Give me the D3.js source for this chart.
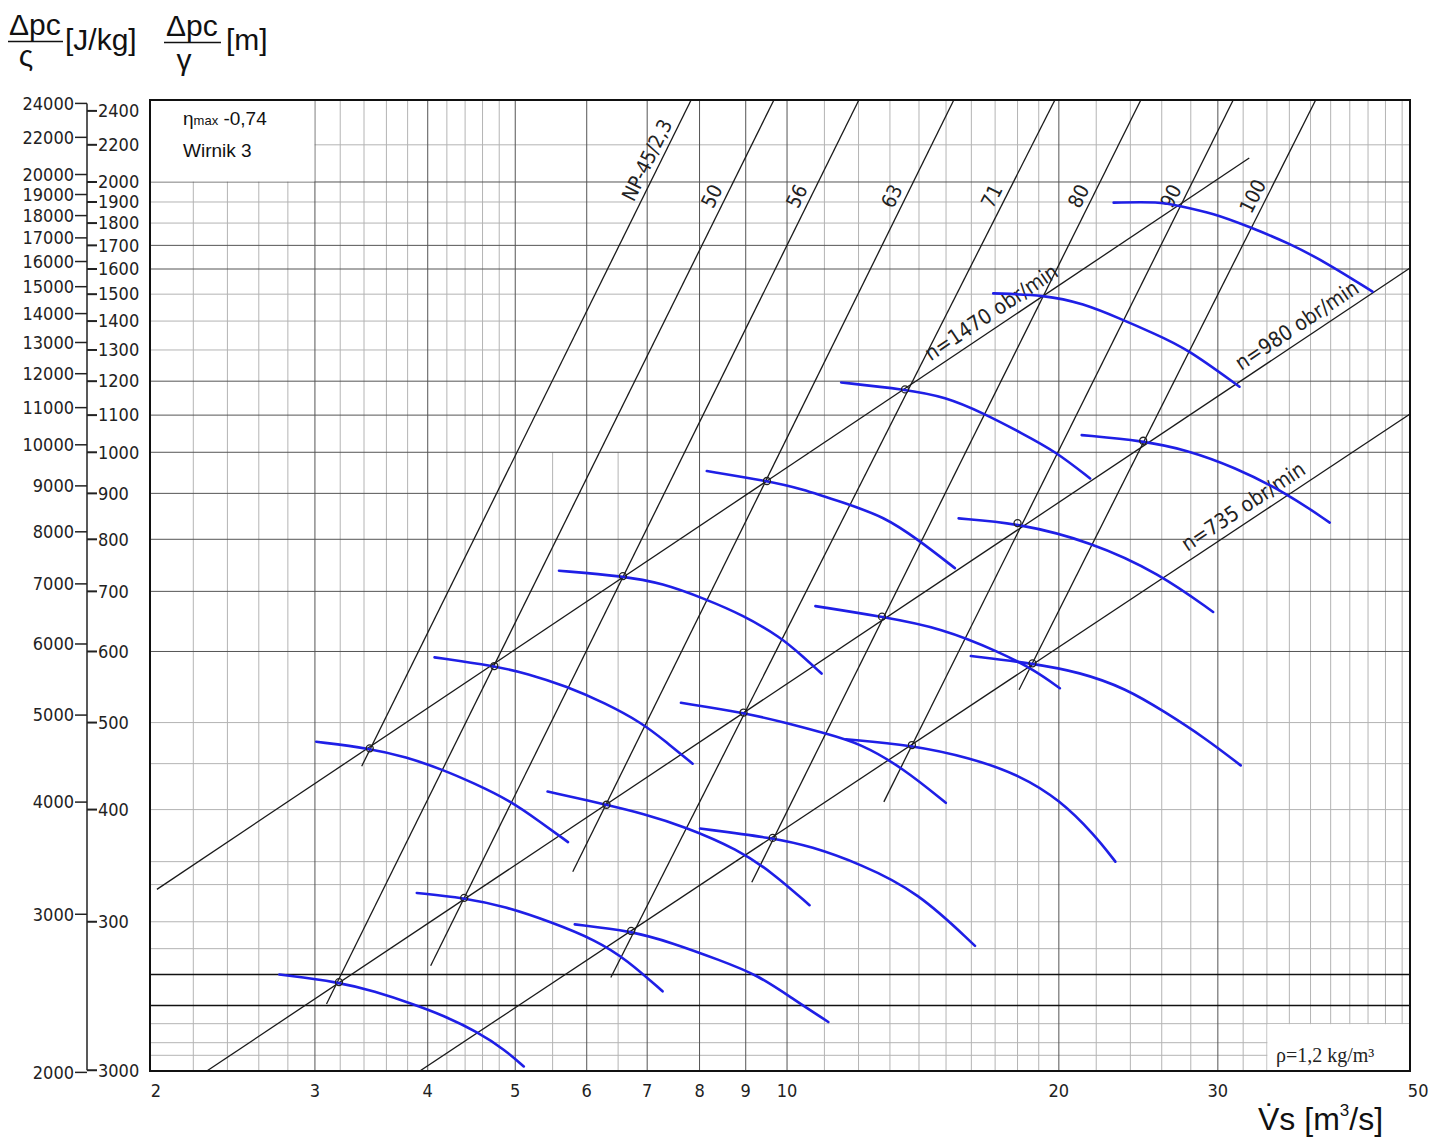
<!DOCTYPE html>
<html>
<head>
<meta charset="utf-8">
<script src="https://cdn.jsdelivr.net/npm/d3@7"></script>
<style>
  body { margin: 0; background: #fff; }
  svg text { font-family: "DejaVu Sans Condensed", "DejaVu Sans", sans-serif; fill: #222; }
  .title text { font-family: "Liberation Sans", Arial, sans-serif; fill: #111; }
</style>
</head>
<body>
<svg id="chart" width="1440" height="1137"></svg>
<script>
// axis ticks (left: J/kg, inner: m, bottom: m3/s)
const jTicks = [24000, 22000, 20000, 19000, 18000, 17000, 16000, 15000, 14000, 13000, 12000, 11000,
                10000, 9000, 8000, 7000, 6000, 5000, 4000, 3000, 2000];
const mTickVals = [2400, 2200, 2000, 1900, 1800, 1700, 1600, 1500, 1400, 1300, 1200, 1100,
                   1000, 900, 800, 700, 600, 500, 400, 300, 205];
const mTickLabels = ["2400", "2200", "2000", "1900", "1800", "1700", "1600", "1500", "1400", "1300", "1200", "1100",
                     "1000", "900", "800", "700", "600", "500", "400", "300", "3000"];
const xTicks = [2, 3, 4, 5, 6, 7, 8, 9, 10, 20, 30, 50];

// grid of the paper
const gridVMajor = [3, 4, 5, 6, 7, 8, 9, 10, 20, 30];
const gridVMinor = [2.2, 2.4, 2.6, 2.8, 3.2, 3.4, 3.6, 3.8, 4.2, 4.4, 4.6, 4.8,
                    11, 12, 13, 14, 15, 16, 17, 18, 19, 22, 24, 26, 28,
                    32, 34, 36, 38, 40, 42, 44, 46, 48];
const gridVPartial = [5.5, 6.5];          // only in the lower part
const gridHMajor = [2000, 1700, 1600, 1200, 1100, 1000, 900, 800, 700, 600];
const gridHMinor = [2200, 1900, 1800, 1500, 1400, 1300, 500, 450, 400, 350, 330, 300, 280, 231, 220, 213];
const gridHHeavy = [262, 242];

// speed lines n = const  [V, H(m)] ends
const speedNames = ["n=1470  obr/min", "n=980  obr/min", "n=735  obr/min"];
const speedLines = [[[2.005, 326], [32.5, 2127]],
                    [[2.277, 204.6], [48.97, 1604]],
                    [[3.92, 204.6], [48.97, 1103]]];
const speedLabelV = [17.2, 37.5, 32.7];

// fan size lines D = const
const sizeNames = ["NP-45/2,3", "50", "56", "63", "71", "80", "90", "100"];
const sizeLines = [[[3.38, 447], [7.83, 2468]],
                   [[3.09, 243], [9.67, 2468]],
                   [[4.03, 268], [12.01, 2468]],
                   [[5.79, 341], [15.3, 2468]],
                   [[6.38, 260], [19.8, 2468]],
                   [[9.14, 332], [24.65, 2468]],
                   [[12.8, 408], [31.2, 2468]],
                   [[18.07, 544], [38.5, 2468]]];
const sizeLabelH = [2085, 1900, 1900, 1900, 1900, 1900, 1900, 1900];

// characteristics, n = 1470 obr/min  (sizes 45 ... 90)
const curves1470 = [
  [[3.01, 476], [3.45, 468], [3.78, 458], [4.16, 443], [4.50, 428], [4.94, 409], [5.32, 388], [5.72, 368]],
  [[4.07, 591], [4.74, 578], [5.16, 567], [5.69, 549], [6.28, 526], [6.92, 499], [7.34, 476], [7.86, 450]],
  [[5.59, 738], [6.58, 728], [7.27, 715], [8.13, 686], [8.92, 659], [9.83, 623], [10.42, 592], [10.92, 567]],
  [[8.15, 953], [9.50, 929], [10.33, 912], [11.61, 877], [12.8, 848], [13.98, 799], [15.34, 743]],
  [[11.48, 1196], [13.51, 1175], [14.97, 1153], [16.51, 1105], [18.2, 1050], [19.87, 1001], [21.66, 935]],
  [[16.92, 1503], [19.3, 1497], [21.27, 1465], [23.45, 1407], [25.5, 1356], [27.68, 1306], [31.7, 1183]],
  [[23.0, 1897], [25.85, 1902], [27.2, 1881], [29.64, 1846], [32.5, 1783], [36.0, 1709], [39.7, 1623], [44.5, 1510]]
];
// n = 980 obr/min  (sizes 50 ... 100)
const curves980 = [
  [[2.74, 262], [3.19, 257], [3.49, 251], [3.85, 243], [4.16, 236], [4.55, 226], [4.87, 216], [5.11, 207]],
  [[3.89, 323], [4.39, 319], [4.87, 312], [5.47, 300], [6.15, 286], [6.65, 272], [7.28, 251]],
  [[5.43, 419], [6.31, 405], [6.92, 396], [7.70, 383], [8.83, 361], [9.64, 340], [10.59, 313]],
  [[7.63, 526], [8.95, 513], [10.03, 499], [11.05, 486], [12.05, 474], [13.44, 445], [14.99, 407]],
  [[10.75, 674], [12.74, 656], [14.83, 637], [17.2, 599], [18.8, 572], [20.05, 546]],
  [[15.49, 844], [18.0, 834], [21.7, 795], [25.85, 733], [29.64, 664]],
  [[21.2, 1045], [24.8, 1030], [27.7, 1006], [31.2, 964], [35.8, 900], [39.9, 835]]
];
// n = 735 obr/min  (sizes 71 ... 100)
const curves735 = [
  [[5.82, 298], [6.72, 293], [7.48, 284], [8.41, 272], [9.27, 262], [10.22, 245], [11.11, 232]],
  [[8.01, 381], [9.64, 372], [10.63, 364], [12.05, 348], [13.96, 324], [16.15, 282]],
  [[11.62, 479], [13.75, 472], [15.94, 457], [18.1, 437], [20.05, 410], [21.9, 375], [23.1, 350]],
  [[15.98, 593], [18.7, 582], [21.1, 569], [23.7, 546], [26.2, 514], [29.0, 481], [31.8, 448]]
];
// small circles at the crossings
const bepPoints = [[3.45, 468], [4.74, 578], [6.58, 728], [9.50, 929], [13.51, 1175],
                   [3.19, 257], [4.39, 319], [6.31, 405], [8.95, 513], [12.74, 656], [18.0, 834], [24.8, 1030],
                   [6.72, 293], [9.64, 372], [13.75, 472], [18.7, 582]];

const G = 9.81;

const svg = d3.select("#chart");
const x = d3.scaleLog().domain([1.97, 48.97]).range([150, 1410]);
const y = d3.scaleLog().domain([204.6, 2468]).range([1071, 100]);
const [x0, x1] = x.range();
const [y1, y0] = y.range();

// grid
const grid = svg.append("g");
function vLines(vals, color, top) {
  grid.selectAll(null).data(vals).enter().append("line")
    .attr("x1", d => x(d)).attr("x2", d => x(d))
    .attr("y1", top).attr("y2", y1)
    .attr("stroke", color).attr("stroke-width", 1);
}
function hLines(vals, color, w) {
  grid.selectAll(null).data(vals).enter().append("line")
    .attr("x1", x0).attr("x2", x1)
    .attr("y1", d => y(d)).attr("y2", d => y(d))
    .attr("stroke", color).attr("stroke-width", w);
}
vLines(gridVMinor, "#b4b4b4", y0);
vLines(gridVPartial, "#b4b4b4", y(1000));
hLines(gridHMinor, "#b4b4b4", 1);
vLines(gridVMajor, "#555", y0);
hLines(gridHMajor, "#555", 1);
hLines(gridHHeavy, "#111", 1.5);

// white boxes for the notes
svg.append("rect").attr("x", x0).attr("y", y0)
  .attr("width", x(3) - x0 - 0.5).attr("height", y(2000) - y0 - 0.5).attr("fill", "#fff");
svg.append("rect").attr("x", x(34) + 0.5).attr("y", y(231) + 0.5)
  .attr("width", x1 - x(34) - 0.5).attr("height", y1 - y(231) - 0.5).attr("fill", "#fff");

const note = svg.append("g").attr("class", "title");
const eta = note.append("text").attr("x", 183).attr("y", 125).style("font-size", "19px");
eta.append("tspan").text("η");
eta.append("tspan").style("font-size", "13px").text("max");
eta.append("tspan").text(" -0,74");
note.append("text").attr("x", 183).attr("y", 157).style("font-size", "19px").text("Wirnik 3");
svg.append("text").attr("x", 1276).attr("y", 1062)
  .style("font-family", "'Liberation Serif', 'Times New Roman', serif").style("font-size", "20px")
  .text("ρ=1,2 kg/m³");

// clip for straight lines
svg.append("clipPath").attr("id", "plotClip").append("rect")
  .attr("x", x0).attr("y", y0).attr("width", x1 - x0).attr("height", y1 - y0);

const lines = svg.append("g").attr("clip-path", "url(#plotClip)");
const straight = d3.line().x(d => x(d[0])).y(d => y(d[1]));
lines.selectAll(null).data(speedLines.concat(sizeLines)).enter().append("path")
  .attr("d", straight).attr("fill", "none").attr("stroke", "#1a1a1a").attr("stroke-width", 1.3);

// line labels
function atH(seg, h) {
  const [a, b] = seg;
  const t = Math.log(h / a[1]) / Math.log(b[1] / a[1]);
  return [a[0] * Math.pow(b[0] / a[0], t), h];
}
function atV(seg, v) {
  const [a, b] = seg;
  const t = Math.log(v / a[0]) / Math.log(b[0] / a[0]);
  return [v, a[1] * Math.pow(b[1] / a[1], t)];
}
function angle(seg) {
  const [a, b] = seg;
  return Math.atan2(y(b[1]) - y(a[1]), x(b[0]) - x(a[0])) * 180 / Math.PI;
}
const labels = svg.append("g");
sizeLines.forEach((seg, i) => {
  const p = atH(seg, sizeLabelH[i]);
  labels.append("text")
    .attr("transform", `translate(${x(p[0])},${y(p[1])}) rotate(${angle(seg)})`)
    .attr("y", -6).attr("text-anchor", "middle").style("font-size", "20px")
    .text(sizeNames[i]);
});
speedLines.forEach((seg, i) => {
  const p = atV(seg, speedLabelV[i]);
  labels.append("text")
    .attr("transform", `translate(${x(p[0])},${y(p[1])}) rotate(${angle(seg)})`)
    .attr("y", -8).attr("text-anchor", "middle").style("font-size", "21px")
    .text(speedNames[i]);
});

// fan characteristics
const curve = d3.line().x(d => x(d[0])).y(d => y(d[1])).curve(d3.curveBasis);
svg.append("g").selectAll("path").data(curves1470.concat(curves980, curves735)).enter().append("path")
  .attr("d", curve).attr("fill", "none").attr("stroke", "#1f1fe6")
  .attr("stroke-width", 2.6).attr("stroke-linecap", "round");
svg.append("g").selectAll("circle").data(bepPoints).enter().append("circle")
  .attr("cx", d => x(d[0])).attr("cy", d => y(d[1])).attr("r", 3.5)
  .attr("fill", "none").attr("stroke", "#222").attr("stroke-width", 1.3);

// frame
svg.append("rect").attr("x", x0).attr("y", y0).attr("width", x1 - x0).attr("height", y1 - y0)
  .attr("fill", "none").attr("stroke", "#111").attr("stroke-width", 2);

// left double axis
const ax = svg.append("g");
ax.append("line").attr("x1", 87).attr("x2", 87)
  .attr("y1", y(jTicks[0] / G)).attr("y2", y(mTickVals[mTickVals.length - 1]))
  .attr("stroke", "#222").attr("stroke-width", 1.5);
jTicks.forEach(v => {
  const yy = y(v / G);
  ax.append("line").attr("x1", 75).attr("x2", 87).attr("y1", yy).attr("y2", yy)
    .attr("stroke", "#222").attr("stroke-width", 1.5);
  ax.append("text").attr("x", 74).attr("y", yy).attr("dy", "0.35em")
    .attr("text-anchor", "end").style("font-size", "18px").text(v);
});
mTickVals.forEach((v, i) => {
  const yy = y(v);
  ax.append("line").attr("x1", 87).attr("x2", 97).attr("y1", yy).attr("y2", yy)
    .attr("stroke", "#222").attr("stroke-width", 2);
  ax.append("text").attr("x", 98).attr("y", yy).attr("dy", "0.35em")
    .style("font-size", "18px").text(mTickLabels[i]);
});

// bottom axis labels
svg.append("g").selectAll("text").data(xTicks).enter().append("text")
  .attr("x", d => x(d)).attr("y", 1097).attr("text-anchor", "middle")
  .style("font-size", "18px").text(d => d);

// axis titles
const t = svg.append("g").attr("class", "title");
t.append("text").attr("x", 9).attr("y", 35).style("font-size", "30px").text("Δpc");
t.append("line").attr("x1", 8).attr("x2", 63).attr("y1", 41.5).attr("y2", 41.5).attr("stroke", "#111").attr("stroke-width", 1.6);
t.append("text").attr("x", 26).attr("y", 66).attr("text-anchor", "middle").style("font-size", "30px").text("ς");
t.append("text").attr("x", 65).attr("y", 50).style("font-size", "30px").text("[J/kg]");
t.append("text").attr("x", 166).attr("y", 36).style("font-size", "30px").text("Δpc");
t.append("line").attr("x1", 164).attr("x2", 221).attr("y1", 42.5).attr("y2", 42.5).attr("stroke", "#111").attr("stroke-width", 1.6);
t.append("text").attr("x", 184).attr("y", 70).attr("text-anchor", "middle").style("font-size", "30px").text("γ");
t.append("text").attr("x", 226).attr("y", 50).style("font-size", "30px").text("[m]");

const vt = t.append("text").attr("x", 1258).attr("y", 1130).style("font-size", "32px");
vt.append("tspan").text("V̇s  [m");
vt.append("tspan").attr("dy", -14).style("font-size", "17px").text("3");
vt.append("tspan").attr("dy", 14).text("/s]");
</script>
</body>
</html>
